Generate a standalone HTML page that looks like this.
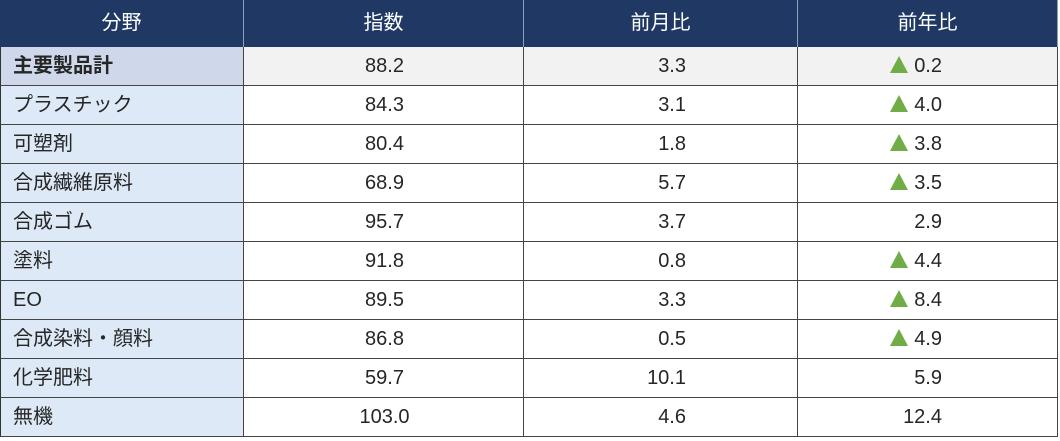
<!DOCTYPE html>
<html><head><meta charset="utf-8"><style>
body{margin:0;width:1060px;height:441px;background:#fff;overflow:hidden;font-family:"Liberation Sans","Noto Sans CJK JP",sans-serif;color:#262626;}
.c{position:absolute;box-sizing:border-box;font-size:20px;line-height:39px;white-space:nowrap;}
.h{background:#1f3864;color:#fff;text-align:center;line-height:46px;border-right:1px solid #8ea0c0;}
.tri{display:inline-block;width:0;height:0;border-left:9px solid transparent;border-right:9px solid transparent;border-bottom:17px solid #70ad47;margin-right:6px;vertical-align:-1px;}
</style></head><body>
<div id="t"></div>
<script>
var d=[["主要製品計","88.2","3.3","▲0.2"],["プラスチック","84.3","3.1","▲4.0"],["可塑剤","80.4","1.8","▲3.8"],["合成繊維原料","68.9","5.7","▲3.5"],["合成ゴム","95.7","3.7","2.9"],["塗料","91.8","0.8","▲4.4"],["EO","89.5","3.3","▲8.4"],["合成染料・顔料","86.8","0.5","▲4.9"],["化学肥料","59.7","10.1","5.9"],["無機","103.0","4.6","12.4"]];
var x=[0,244,524,798,1058],h="";
["分野","指数","前月比","前年比"].forEach(function(s,i){h+='<div class="c h" style="left:'+x[i]+'px;top:0;width:'+(x[i+1]-x[i])+'px;height:47px">'+s+'</div>';});
d.forEach(function(r,j){var y=47+j*39;
 var lb=j==0?'#cfd8ea':'#dde9f6',bg=j==0?'#f2f2f2':'#fff';
 h+='<div class="c" style="left:0;top:'+y+'px;width:244px;height:39px;background:'+lb+';padding-left:12px;border-left:1px solid #333;border-bottom:1px solid #444;border-right:1px solid #444;'+(j==0?'font-weight:bold;':'')+'">'+r[0]+'</div>';
 h+='<div class="c" style="left:244px;top:'+y+'px;width:280px;height:39px;background:'+bg+';text-align:center;border-bottom:1px solid #444;border-right:1px solid #444;padding-left:2px">'+r[1]+'</div>';
 h+='<div class="c" style="left:524px;top:'+y+'px;width:274px;height:39px;background:'+bg+';text-align:right;padding-right:111px;border-bottom:1px solid #444;border-right:1px solid #444">'+r[2]+'</div>';
 var v=r[3].charAt(0)=='▲'?'<span class="tri"></span>'+r[3].slice(1):r[3];
 h+='<div class="c" style="left:798px;top:'+y+'px;width:260px;height:39px;background:'+bg+';text-align:right;padding-right:115px;border-bottom:1px solid #444;border-right:1px solid #444">'+v+'</div>';
});
document.getElementById('t').innerHTML=h;
</script>
</body></html>
